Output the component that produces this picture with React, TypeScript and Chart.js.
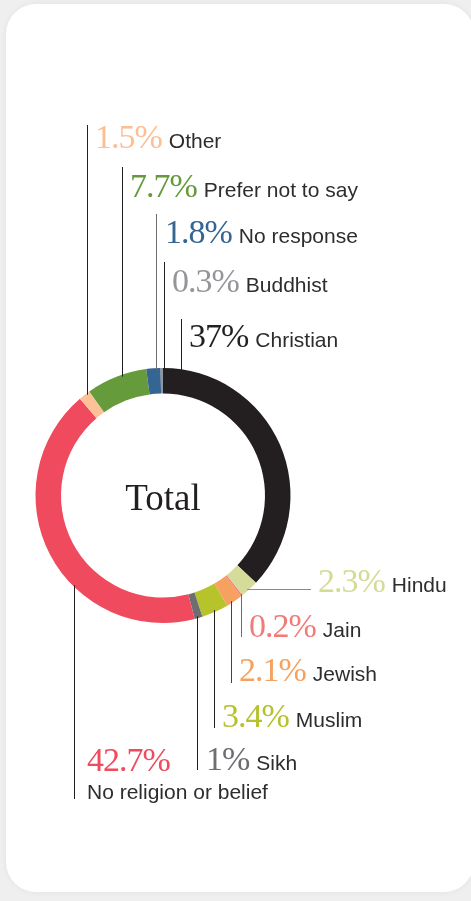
import React, { useEffect, useRef } from "react";
import { Chart, registerables } from "chart.js";

Chart.register(...registerables);

// ---- data ----
const categories = [
  "Christian",
  "Hindu",
  "Jain",
  "Jewish",
  "Muslim",
  "Sikh",
  "No religion or belief",
  "Other",
  "Prefer not to say",
  "No response",
  "Buddhist",
];
const shares = [37, 2.3, 0.2, 2.1, 3.4, 1, 42.7, 1.5, 7.7, 1.8, 0.3];
const sliceColors = [
  "#231f20",
  "#d5dc9a",
  "#f07c7a",
  "#f6a15f",
  "#b6c32a",
  "#6d6e71",
  "#ef4a5d",
  "#fcc196",
  "#669b3c",
  "#356593",
  "#939598",
];
const percentColors = [
  "#231f20",
  "#d3db95",
  "#f07b78",
  "#f6a15f",
  "#b5c22a",
  "#6d6e71",
  "#ef4a5e",
  "#fcbf94",
  "#649a3b",
  "#356593",
  "#949599",
];
const centerLabel = "Total";

// ---- layout (positions of leader lines and labels, page pixels) ----
type Layout = {
  kind: "up" | "down" | "side";
  lineX?: number;
  lineEnd: number;
  textX: number;
  baseline: number;
  lineColor: string;
  nameBelow?: number;
};
const LABEL_LAYOUT: Layout[] = [
  { kind: "up", lineX: 181, lineEnd: 319, textX: 189, baseline: 347, lineColor: "#231f20" },
  { kind: "side", lineEnd: 311, textX: 318, baseline: 592, lineColor: "#8a8a8a" },
  { kind: "down", lineX: 241, lineEnd: 637, textX: 249, baseline: 637, lineColor: "#6d6e71" },
  { kind: "down", lineX: 231, lineEnd: 683, textX: 239, baseline: 681, lineColor: "#444" },
  { kind: "down", lineX: 214, lineEnd: 728, textX: 222, baseline: 727, lineColor: "#231f20" },
  { kind: "down", lineX: 197, lineEnd: 770, textX: 206, baseline: 770, lineColor: "#231f20" },
  { kind: "down", lineX: 74, lineEnd: 799, textX: 87, baseline: 771, lineColor: "#231f20", nameBelow: 799 },
  { kind: "up", lineX: 87, lineEnd: 125, textX: 95, baseline: 148, lineColor: "#231f20" },
  { kind: "up", lineX: 122, lineEnd: 167, textX: 130, baseline: 197, lineColor: "#231f20" },
  { kind: "up", lineX: 156, lineEnd: 214, textX: 165, baseline: 243, lineColor: "#6d6e71" },
  { kind: "up", lineX: 164, lineEnd: 262, textX: 172, baseline: 292, lineColor: "#231f20" },
];

const PCT_FONT = '34px "Liberation Serif"';
const NAME_FONT = '21px "Liberation Sans"';
const NAME_COLOR = "#2e2d2e";

const labelsPlugin = {
  id: "leaderLabels",
  afterDraw(chart: any) {
    const ctx: CanvasRenderingContext2D = chart.ctx;
    const meta = chart.getDatasetMeta(0);
    const first: any = meta.data[0];
    if (!first) return;
    const cx = first.x;
    const cy = first.y;
    const R = first.outerRadius;

    ctx.save();
    // centre label
    ctx.fillStyle = "#231f20";
    ctx.font = '37px "Liberation Serif"';
    ctx.textAlign = "center";
    ctx.textBaseline = "alphabetic";
    ctx.fillText(centerLabel, cx, cy + 14.5);

    ctx.textAlign = "left";
    ctx.lineWidth = 1;
    categories.forEach((name, i) => {
      const L = LABEL_LAYOUT[i];
      const arc: any = meta.data[i];
      ctx.strokeStyle = L.lineColor;
      ctx.beginPath();
      if (L.kind === "side") {
        const mid = (arc.startAngle + arc.endAngle) / 2;
        const y = Math.round(cy + R * Math.sin(mid)) + 0.5;
        const x0 = cx + Math.sqrt(Math.max(R * R - (y - cy) * (y - cy), 0));
        ctx.moveTo(x0 - 2, y);
        ctx.lineTo(L.lineEnd, y);
      } else {
        const lx = Math.round(L.lineX as number) + 0.5;
        const d = Math.sqrt(Math.max(R * R - (lx - cx) * (lx - cx), 0));
        const y0 = L.kind === "up" ? cy - d + 2 : cy + d - 2;
        ctx.moveTo(lx, y0);
        ctx.lineTo(lx, L.lineEnd);
      }
      ctx.stroke();

      const pct = `${shares[i]}%`;
      ctx.font = PCT_FONT;
      ctx.fillStyle = percentColors[i];
      (ctx as any).letterSpacing = "-1px";
      ctx.fillText(pct, L.textX, L.baseline);
      const w = ctx.measureText(pct).width;
      (ctx as any).letterSpacing = "0px";
      ctx.font = NAME_FONT;
      ctx.fillStyle = NAME_COLOR;
      if (L.nameBelow !== undefined) {
        ctx.fillText(name, L.textX, L.nameBelow);
      } else {
        ctx.fillText(name, L.textX + w + 7, L.baseline);
      }
    });
    ctx.restore();
  },
};

export default function App() {
  const canvasRef = useRef<HTMLCanvasElement | null>(null);

  useEffect(() => {
    if (!canvasRef.current) return;
    const chart = new Chart(canvasRef.current, {
      type: "doughnut",
      data: {
        labels: categories,
        datasets: [
          {
            data: shares,
            backgroundColor: sliceColors,
            borderWidth: 0,
            hoverOffset: 0,
            offset: 0,
          },
        ],
      },
      options: {
        responsive: false,
        maintainAspectRatio: false,
        animation: false,
        cutout: "80%",
        rotation: 0,
        layout: { padding: { left: 35.5, right: 180.5, top: 368, bottom: 278 } },
        plugins: {
          legend: { display: false },
          tooltip: { enabled: false },
          title: { display: false },
        },
        events: [],
      },
      plugins: [labelsPlugin],
    });
    return () => chart.destroy();
  }, []);

  return (
    <div
      style={{
        position: "fixed",
        left: 0,
        top: 0,
        width: 471,
        height: 901,
        background: "#efefef",
        overflow: "hidden",
      }}
    >
      <div
        style={{
          position: "absolute",
          left: 6,
          top: 4,
          width: 468,
          height: 888,
          borderRadius: 30,
          background: "#ffffff",
          boxShadow: "0 0 6px rgba(0,0,0,0.06)",
        }}
      />
      <canvas
        ref={canvasRef}
        width={471}
        height={901}
        style={{ position: "absolute", left: 0, top: 0, width: 471, height: 901 }}
      />
    </div>
  );
}
